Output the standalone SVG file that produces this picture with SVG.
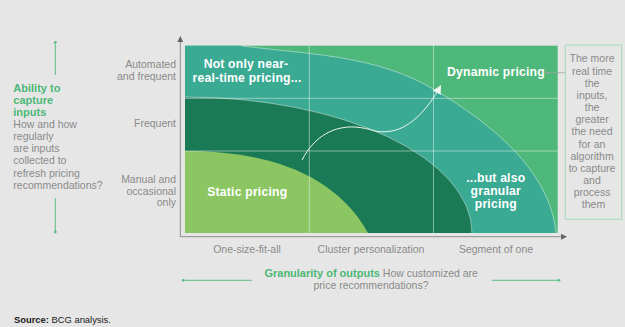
<svg xmlns="http://www.w3.org/2000/svg" width="625" height="327" viewBox="0 0 625 327">
  <defs>
    <style>
      .lbl { font-family: "Liberation Sans", Arial, sans-serif; font-size: 10.5px; fill: #8a8a8a; }
      .zone { font-family: "Liberation Sans", Arial, sans-serif; font-size: 12.2px; font-weight: bold; fill: #ffffff; text-anchor: middle; letter-spacing: 0.2px; }
      .title { font-family: "Liberation Sans", Arial, sans-serif; font-size: 11px; font-weight: bold; fill: #4cb877; }
      .grid { stroke: #ffffff; stroke-opacity: 0.45; stroke-width: 1; fill: none; }
      .edge { stroke: #ffffff; stroke-opacity: 0.55; stroke-width: 0.8; fill: none; }
      .axis { stroke: #8c8c8c; stroke-width: 1; fill: none; }
      .guide { stroke: #5cbf86; stroke-width: 1; fill: none; }
    </style>
    <marker id="axisHead" viewBox="0 0 6 6" refX="5" refY="3" markerWidth="6" markerHeight="6" orient="auto" markerUnits="userSpaceOnUse">
      <path d="M0,0 L6,3 L0,6 Z" fill="#666"/>
    </marker>
    <marker id="flowHead" viewBox="0 0 8 8" refX="6" refY="4" markerWidth="9" markerHeight="9" orient="auto" markerUnits="userSpaceOnUse">
      <path d="M0,0 L8,4 L0,8 Z" fill="#eef7f1"/>
    </marker>
  </defs>

  <rect x="0" y="0" width="625" height="327" fill="#e6e6e6"/>

  <!-- plot regions -->
  <g id="plot">
    <rect id="dynamic-zone" x="185" y="45.7" width="372.7" height="187.3" fill="#4db87a"/>
    <path id="teal-zone" d="M185,45.7 L241,45.7 C306,54.6 375,54 435,90 C490,123 550,170 556,233 L185,233 Z" fill="#3aaa93"/>
    <path id="dark-zone" d="M185,97 A287,136 0 0 1 472,233 L185,233 Z" fill="#1b7a56"/>
    <path id="static-zone" d="M185,151 C250,151 330,165 368,233 L185,233 Z" fill="#8bc662"/>
    <path class="edge" d="M241,45.7 C306,54.6 375,54 435,90 C490,123 550,170 556,233"/>
    <path class="edge" d="M185,97 A287,136 0 0 1 472,233"/>
    <line class="grid" x1="309.3" y1="45.7" x2="309.3" y2="233"/>
    <line class="grid" x1="433.5" y1="45.7" x2="433.5" y2="233"/>
    <line class="grid" x1="185" y1="98.3" x2="557.7" y2="98.3"/>
    <line class="grid" x1="185" y1="151" x2="557.7" y2="151"/>
  </g>

  <!-- connectors -->
  <g id="connectors">
    <path id="flow" d="M302,160 C315,135 335,126 355,127 C372,128 374,134 392,131 C412,127 428,108 440,87" fill="none" stroke="#eef7f1" stroke-width="1" marker-end="url(#flowHead)"/>
    <line class="axis" x1="180.3" y1="236.7" x2="180.3" y2="37" marker-end="url(#axisHead)"/>
    <line class="axis" x1="180.3" y1="236.7" x2="566" y2="236.7" marker-end="url(#axisHead)"/>
    <line x1="547" y1="72.7" x2="565.3" y2="72.7" stroke="#9aa6a0" stroke-width="0.8"/>
    <circle cx="547" cy="72.7" r="1.3" fill="#9aa6a0"/>
    <line class="guide" x1="55.3" y1="42.3" x2="55.3" y2="75"/>
    <circle cx="55.3" cy="42.3" r="1.4" fill="#5cbf86"/>
    <line class="guide" x1="55.3" y1="198" x2="55.3" y2="232"/>
    <circle cx="55.3" cy="232" r="1.4" fill="#5cbf86"/>
    <line class="guide" x1="183.3" y1="280.3" x2="251.7" y2="280.3"/>
    <circle cx="183.3" cy="280.3" r="1.4" fill="#5cbf86"/>
    <line class="guide" x1="491.7" y1="280.3" x2="559" y2="280.3"/>
    <circle cx="559" cy="280.3" r="1.4" fill="#5cbf86"/>
  </g>

  <!-- zone labels -->
  <g id="near-real-time">
    <text class="zone" x="246" y="68.3">Not only near-</text>
    <text class="zone" x="247" y="82">real-time pricing...</text>
  </g>
  <g id="static-pricing">
    <text class="zone" x="247.3" y="195.7">Static pricing</text>
  </g>
  <g id="dynamic-pricing">
    <text class="zone" x="496" y="76">Dynamic pricing</text>
  </g>
  <g id="granular-pricing">
    <text class="zone" x="495.8" y="181.7">...but also</text>
    <text class="zone" x="495.8" y="195">granular</text>
    <text class="zone" x="495.8" y="208.3">pricing</text>
  </g>

  <!-- explanatory box -->
  <g id="note">
    <rect x="565.3" y="45" width="56.4" height="174.3" fill="none" stroke="#a6d9b6" stroke-width="1"/>
    <text class="lbl" text-anchor="middle">
      <tspan x="593.5" y="62.3">The more</tspan>
      <tspan x="593.5" y="74.5">real time</tspan>
      <tspan x="593.5" y="86.6">the</tspan>
      <tspan x="593.5" y="98.8">inputs,</tspan>
      <tspan x="593.5" y="111">the</tspan>
      <tspan x="593.5" y="123.2">greater</tspan>
      <tspan x="593.5" y="135.3">the need</tspan>
      <tspan x="593.5" y="147.5">for an</tspan>
      <tspan x="593.5" y="159.7">algorithm</tspan>
      <tspan x="593.5" y="171.9">to capture</tspan>
      <tspan x="593.5" y="184">and</tspan>
      <tspan x="593.5" y="196.2">process</tspan>
      <tspan x="593.5" y="208.4">them</tspan>
    </text>
  </g>

  <!-- vertical axis title -->
  <g id="y-axis-title">
    <text class="title" x="13.3" y="92">Ability to</text>
    <text class="title" x="13.3" y="104">capture</text>
    <text class="title" x="13.3" y="115.5">inputs</text>
    <text class="lbl">
      <tspan x="13.3" y="127.7">How and how</tspan>
      <tspan x="13.3" y="140">regularly</tspan>
      <tspan x="13.3" y="152">are inputs</tspan>
      <tspan x="13.3" y="164.2">collected to</tspan>
      <tspan x="13.3" y="176.6">refresh pricing</tspan>
      <tspan x="13.3" y="189">recommendations?</tspan>
    </text>
  </g>

  <!-- vertical axis ticks -->
  <g id="y-labels" text-anchor="end">
    <text class="lbl"><tspan x="176" y="68.3">Automated</tspan><tspan x="176" y="79.5">and frequent</tspan></text>
    <text class="lbl" x="176" y="127.3">Frequent</text>
    <text class="lbl"><tspan x="176" y="183.3">Manual and</tspan><tspan x="176" y="194.8">occasional</tspan><tspan x="176" y="206.2">only</tspan></text>
  </g>

  <!-- horizontal axis ticks -->
  <g id="x-labels" text-anchor="middle">
    <text class="lbl" x="247" y="253">One-size-fit-all</text>
    <text class="lbl" x="371" y="253">Cluster personalization</text>
    <text class="lbl" x="496" y="253">Segment of one</text>
  </g>

  <!-- horizontal axis title -->
  <g id="x-axis-title" text-anchor="middle">
    <text x="371.2" y="277.3" class="lbl"><tspan class="title">Granularity of outputs</tspan> How customized are</text>
    <text class="lbl" x="371" y="289.3">price recommendations?</text>
  </g>

  <g id="source">
    <text x="14" y="322.7" font-family="Liberation Sans, Arial, sans-serif" font-size="9.4px" fill="#1a1a1a"><tspan font-weight="bold">Source:</tspan> BCG analysis.</text>
  </g>
</svg>
